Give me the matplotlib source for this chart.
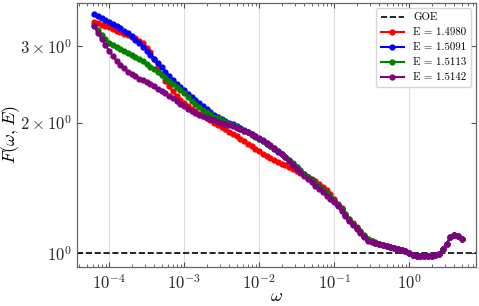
import numpy as np
import matplotlib
matplotlib.use("Agg")
import matplotlib.pyplot as plt

plt.rcParams['font.family'] = 'serif'
plt.rcParams['font.serif'] = ['cmr10']
plt.rcParams['mathtext.fontset'] = 'cm'
plt.rcParams['axes.formatter.use_mathtext'] = True

# frequency grid (log-spaced sampling)
omega = np.logspace(-4.2, 0.7, 99)

labels = ["E = 1.4980", "E = 1.5091", "E = 1.5113", "E = 1.5142"]
colors = ["red", "blue", "green", "purple"]

# shared tail (omega > ~0.4), identical for all energies
tail = [1.037, 1.033, 1.028, 1.022, 1.015, 1.008, 1.000, 0.988, 0.984, 0.982,
        0.982, 0.982, 0.984, 0.987, 0.995, 1.021, 1.050, 1.087, 1.100, 1.091,
        1.075]

F_red = [3.416, 3.393, 3.367, 3.344, 3.319, 3.291, 3.263, 3.235, 3.208, 3.184,
         3.159, 3.134, 3.096, 3.058, 2.983, 2.905, 2.799, 2.695, 2.590, 2.501,
         2.424, 2.360, 2.302, 2.255, 2.217, 2.181, 2.151, 2.124, 2.099, 2.073,
         2.048, 2.023, 1.998, 1.974, 1.952, 1.929, 1.907, 1.883, 1.859, 1.835,
         1.812, 1.788, 1.764, 1.739, 1.715, 1.691, 1.672, 1.654, 1.637, 1.623,
         1.608, 1.592, 1.577, 1.561, 1.545, 1.531, 1.514, 1.498, 1.481, 1.464,
         1.444, 1.421, 1.398, 1.365, 1.330, 1.299, 1.267, 1.232, 1.198, 1.170,
         1.144, 1.120, 1.098, 1.078, 1.067, 1.057, 1.048, 1.041] + tail

F_blue = [3.564, 3.526, 3.487, 3.450, 3.412, 3.376, 3.341, 3.301, 3.263, 3.223,
          3.167, 3.112, 3.055, 2.994, 2.935, 2.874, 2.811, 2.750, 2.685, 2.622,
          2.562, 2.511, 2.462, 2.418, 2.378, 2.330, 2.288, 2.252, 2.216, 2.182,
          2.149, 2.116, 2.087, 2.065, 2.043, 2.021, 2.000, 1.980, 1.962, 1.944,
          1.925, 1.906, 1.883, 1.859, 1.836, 1.813, 1.788, 1.763, 1.738, 1.714,
          1.688, 1.662, 1.636, 1.607, 1.577, 1.548, 1.520, 1.495, 1.470, 1.445,
          1.419, 1.394, 1.369, 1.342, 1.316, 1.289, 1.260, 1.225, 1.192, 1.164,
          1.138, 1.114, 1.092, 1.072, 1.062, 1.052, 1.046, 1.041] + tail

F_green = [3.362, 3.278, 3.197, 3.124, 3.061, 3.024, 2.989, 2.957, 2.928, 2.898,
           2.870, 2.842, 2.810, 2.771, 2.732, 2.693, 2.656, 2.620, 2.579, 2.538,
           2.497, 2.458, 2.419, 2.379, 2.340, 2.286, 2.240, 2.204, 2.170, 2.141,
           2.115, 2.089, 2.065, 2.046, 2.026, 2.007, 1.989, 1.970, 1.951, 1.933,
           1.915, 1.897, 1.876, 1.855, 1.834, 1.813, 1.790, 1.767, 1.745, 1.722,
           1.696, 1.665, 1.639, 1.610, 1.580, 1.551, 1.523, 1.498, 1.473, 1.448,
           1.422, 1.397, 1.372, 1.345, 1.319, 1.292, 1.263, 1.228, 1.195, 1.167,
           1.141, 1.117, 1.095, 1.075, 1.065, 1.055, 1.048, 1.042] + tail

F_purple = [3.344, 3.221, 3.114, 3.016, 2.932, 2.851, 2.775, 2.716, 2.668, 2.620,
            2.588, 2.560, 2.528, 2.503, 2.479, 2.454, 2.427, 2.397, 2.368, 2.338,
            2.305, 2.274, 2.242, 2.204, 2.179, 2.153, 2.129, 2.108, 2.087, 2.069,
            2.054, 2.038, 2.023, 2.011, 2.000, 1.988, 1.976, 1.962, 1.945, 1.929,
            1.913, 1.897, 1.878, 1.860, 1.841, 1.822, 1.798, 1.772, 1.748, 1.723,
            1.695, 1.661, 1.628, 1.596, 1.565, 1.533, 1.504, 1.480, 1.454, 1.429,
            1.404, 1.379, 1.355, 1.331, 1.307, 1.282, 1.250, 1.218, 1.185, 1.158,
            1.132, 1.108, 1.086, 1.067, 1.059, 1.051, 1.045, 1.041] + tail

series = [F_red, F_blue, F_green, F_purple]

fig, ax = plt.subplots(figsize=(4.79, 3.06), dpi=100)
fig.subplots_adjust(left=0.161, right=0.994, top=0.990, bottom=0.127)

ax.axhline(1.0, color='k', ls='--', lw=1.2, label='GOE')
for F, c, lab in zip(series, colors, labels):
    ax.plot(omega, F, '-o', color=c, lw=1.5, ms=3.5, label=lab)

ax.set_xscale('log')
ax.set_yscale('log')
ax.set_xlim(3.74e-5, 7.8)
ax.set_ylim(0.926, 3.78)

ax.set_yticks([1, 2, 3])
ax.set_yticklabels([r'$10^{0}$', r'$2\times10^{0}$', r'$3\times10^{0}$'])
ax.yaxis.set_minor_locator(matplotlib.ticker.NullLocator())

ax.grid(True, which='major', axis='x', color='#dddddd', lw=0.8)
ax.tick_params(which='both', direction='in', top=True, right=True,
               labelsize=12, colors='0.3', labelcolor='0.15')
ax.tick_params(which='minor', length=2)
ax.tick_params(which='major', length=3.5, pad=4)
for s in ax.spines.values():
    s.set_color('0.4')
    s.set_linewidth(0.9)

ax.set_xlabel(r'$\omega$', fontsize=13)
ax.set_ylabel(r'$F(\omega, E)$', fontsize=13)
ax.xaxis.set_label_coords(0.5, -0.082)
ax.yaxis.set_label_coords(-0.137, 0.5)

leg = ax.legend(loc='upper right', fontsize=7.8, frameon=True, fancybox=True,
                borderaxespad=0.5, handlelength=2.2)
leg.get_frame().set_edgecolor('0.8')

plt.savefig("out.png", dpi=100)
